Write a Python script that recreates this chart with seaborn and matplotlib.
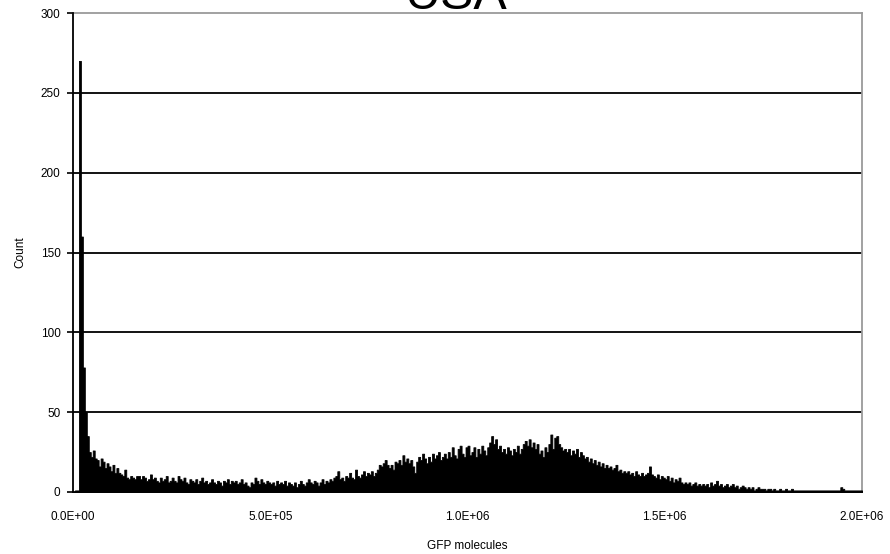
import numpy as np
import pandas as pd
import matplotlib
matplotlib.use("Agg")
import matplotlib.pyplot as plt
from matplotlib.ticker import FuncFormatter
import seaborn as sns

title = "USA"
x_label = "GFP molecules"
y_label = "Count"
bin_width = 5000
x_ticks = [0, 500000, 1000000, 1500000, 2000000]
y_ticks = [0, 50, 100, 150, 200, 250, 300]

counts_0_99 = [
    0, 1, 1, 270, 160, 78, 50, 35, 25, 22,
    26, 21, 20, 16, 21, 19, 15, 18, 16, 13,
    17, 12, 15, 12, 11, 10, 14, 9, 8, 10,
    9, 8, 10, 10, 8, 10, 9, 7, 8, 11,
    8, 9, 7, 6, 9, 7, 8, 10, 6, 7,
    9, 7, 6, 10, 8, 7, 9, 6, 5, 8,
    7, 6, 8, 5, 7, 9, 6, 7, 5, 6,
    8, 6, 5, 7, 6, 4, 7, 6, 8, 5,
    7, 6, 7, 5, 6, 8, 5, 6, 4, 3,
    6, 5, 9, 7, 5, 8, 6, 5, 7, 6,
]
counts_100_199 = [
    5, 6, 4, 7, 5, 6, 5, 7, 4, 6,
    5, 4, 6, 3, 5, 7, 5, 4, 6, 8,
    6, 5, 7, 6, 4, 6, 8, 5, 7, 6,
    8, 7, 9, 10, 13, 8, 9, 7, 10, 9,
    12, 9, 8, 14, 10, 9, 11, 13, 10, 12,
    11, 13, 10, 12, 14, 17, 16, 18, 20, 17,
    15, 17, 14, 19, 18, 20, 17, 23, 19, 21,
    18, 20, 16, 12, 19, 22, 20, 24, 21, 18,
    22, 19, 24, 21, 23, 25, 20, 22, 24, 21,
    25, 22, 28, 23, 21, 27, 29, 24, 22, 28,
]
counts_200_299 = [
    29, 23, 25, 28, 22, 27, 24, 29, 26, 23,
    28, 31, 35, 30, 33, 27, 29, 25, 27, 24,
    28, 26, 23, 27, 25, 29, 24, 27, 30, 32,
    29, 33, 28, 31, 27, 30, 24, 26, 22, 28,
    25, 30, 36, 27, 34, 35, 30, 28, 26, 27,
    25, 27, 23, 26, 24, 27, 22, 25, 23, 21,
    22, 19, 21, 18, 20, 17, 19, 16, 18, 15,
    17, 15, 16, 14, 15, 17, 13, 14, 12, 13,
    12, 13, 11, 12, 10, 13, 11, 10, 12, 10,
    11, 12, 16, 11, 10, 9, 11, 8, 10, 9,
]
counts_300_399 = [
    8, 10, 7, 9, 6, 8, 7, 9, 6, 5,
    6, 5, 6, 4, 5, 6, 4, 5, 4, 5,
    4, 5, 3, 6, 4, 5, 7, 4, 5, 3,
    4, 5, 3, 4, 5, 3, 4, 2, 3, 4,
    3, 2, 3, 2, 3, 1, 2, 3, 2, 2,
    2, 1, 2, 2, 1, 2, 1, 1, 2, 1,
    1, 2, 1, 1, 2, 1, 1, 1, 1, 1,
    1, 1, 1, 1, 1, 1, 1, 1, 1, 1,
    1, 1, 1, 1, 1, 1, 1, 1, 1, 3,
    2, 1, 1, 1, 1, 1, 1, 1, 1, 1,
]

counts = counts_0_99 + counts_100_199 + counts_200_299 + counts_300_399
n_bins = len(counts)
centers = [(i + 0.5) * bin_width for i in range(n_bins)]
df = pd.DataFrame({"gfp": centers, "count": counts})

sns.set_theme(style="white")
plt.rcParams["font.family"] = ["Liberation Sans", "DejaVu Sans"]
plt.rcParams["text.color"] = "black"
plt.rcParams["axes.labelcolor"] = "black"
plt.rcParams["xtick.color"] = "black"
plt.rcParams["ytick.color"] = "black"

fig = plt.figure(figsize=(8.9, 5.54), dpi=100)
ax = fig.add_axes([73 / 890, 1 - 492 / 554, (862 - 73) / 890, (492 - 13) / 554])

sns.histplot(data=df, x="gfp", weights="count", bins=n_bins,
             binrange=(0, n_bins * bin_width), element="step", fill=True,
             color="black", alpha=1.0, linewidth=0.6, edgecolor="black", ax=ax,
             zorder=3)

ax.set_xlim(0, 2000000)
ax.set_ylim(0, 300)
ax.set_xticks(x_ticks)
ax.set_yticks(y_ticks)
ax.xaxis.set_major_formatter(FuncFormatter(lambda v, p: f"{v:.1E}"))

for yv in y_ticks[1:-1]:
    ax.axhline(yv, color="black", linewidth=1.3, zorder=2)

for s in ["top", "right"]:
    ax.spines[s].set_color("#9a9a9a")
    ax.spines[s].set_linewidth(1.3)
for s in ["left", "bottom"]:
    ax.spines[s].set_color("black")
    ax.spines[s].set_linewidth(1.3)
ax.spines["left"].set_zorder(5)

ax.tick_params(axis="y", direction="out", length=4, width=1.2, color="black",
               labelcolor="black", labelsize=8.5, pad=5, left=True)
ax.tick_params(axis="x", length=0, labelcolor="black", labelsize=8.5, pad=14)

ax.set_xlabel(x_label, fontsize=8.5, labelpad=12, color="black")
ax.set_ylabel(y_label, fontsize=8.5, labelpad=10, color="black")

fig.text(0.512, 1 - 9 / 554, title, ha="center", va="baseline", fontsize=36,
         color="black")

fig.savefig("out.png", dpi=100)
